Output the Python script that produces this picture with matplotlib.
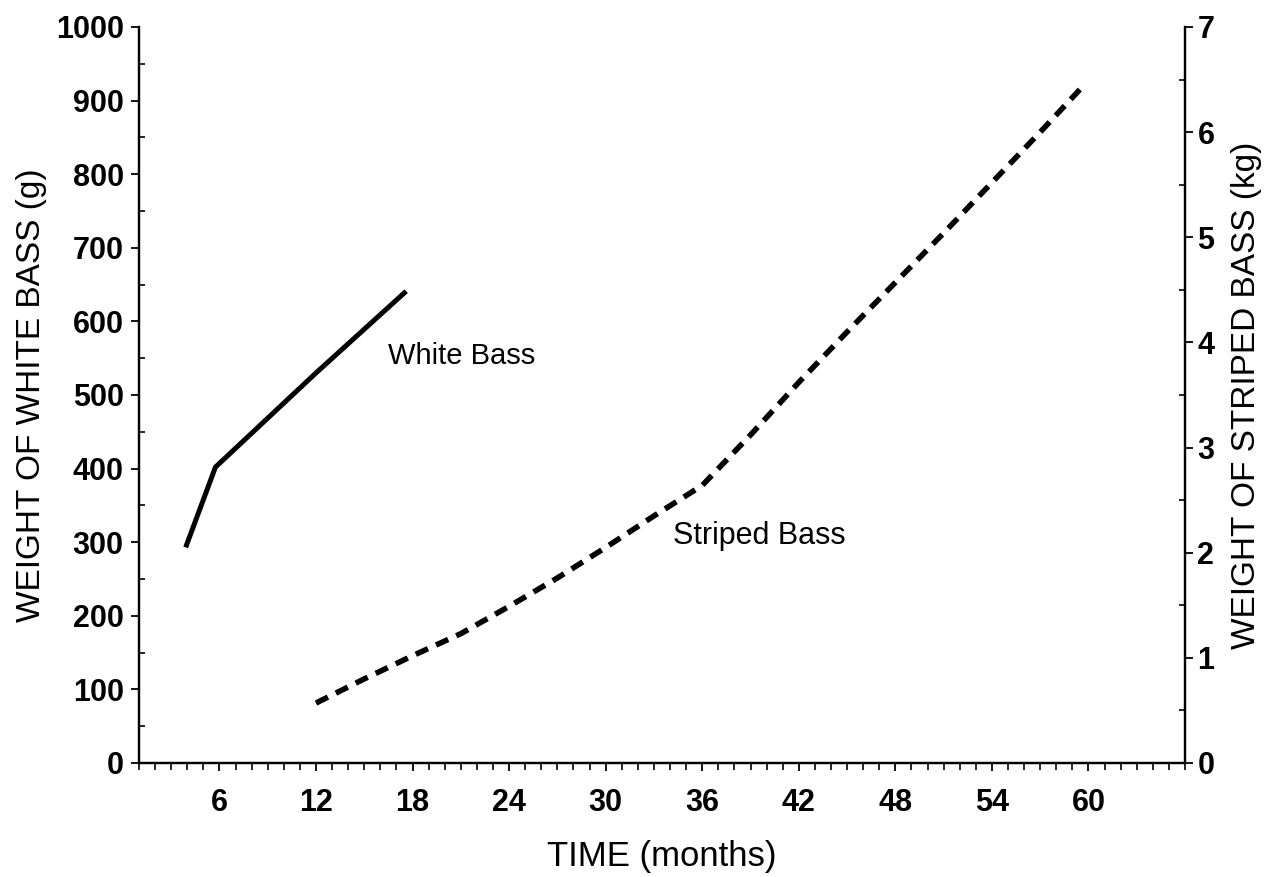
import matplotlib
matplotlib.use("Agg")
import matplotlib.pyplot as plt
from matplotlib.ticker import MultipleLocator, FixedLocator

# ---- data ----
white_months = [3.9, 5.75, 12.0, 17.6]
white_weight_g = [293, 402, 530, 641]

striped_months = [12, 15, 18, 21, 24, 27, 30, 33, 36, 39, 42, 45, 48, 51, 54, 57, 59.8]
striped_weight_kg = [0.57, 0.80, 1.02, 1.23, 1.49, 1.76, 2.05, 2.35, 2.64, 3.12, 3.62, 4.10, 4.57, 5.04, 5.52, 6.00, 6.46]

x_ticks = [6, 12, 18, 24, 30, 36, 42, 48, 54, 60]
left_ticks = [0, 100, 200, 300, 400, 500, 600, 700, 800, 900, 1000]
right_ticks = [0, 1, 2, 3, 4, 5, 6, 7]

W, H = 1268, 877
fig = plt.figure(figsize=(W / 100, H / 100), dpi=100)
ax = fig.add_axes([139 / W, 1 - 763 / H, (1185 - 139) / W, (763 - 27) / H])
ax2 = ax.twinx()

tick_font = dict(family=["Liberation Sans", "DejaVu Sans"], weight="bold", size=22)
label_family = ["Liberation Sans", "DejaVu Sans"]

ax.plot(white_months, white_weight_g, color="black", lw=3.6, solid_capstyle="butt",
        solid_joinstyle="miter")
ax2.plot(striped_months, striped_weight_kg, color="black", lw=4.0,
         linestyle=(0, (2.4, 1.6)), dash_capstyle="butt")

ax.set_xlim(1, 66)
ax.set_ylim(0, 1000)
ax2.set_ylim(0, 7)

for a in (ax, ax2):
    a.spines["top"].set_visible(False)
    for s in a.spines.values():
        s.set_linewidth(1.6)

ax.xaxis.set_major_locator(FixedLocator(x_ticks))
ax.xaxis.set_minor_locator(MultipleLocator(1))
ax.yaxis.set_major_locator(FixedLocator(left_ticks))
ax.yaxis.set_minor_locator(MultipleLocator(50))
ax2.yaxis.set_major_locator(FixedLocator(right_ticks))
ax2.yaxis.set_minor_locator(MultipleLocator(0.5))

ax.tick_params(axis="x", which="major", direction="out", length=6, width=1.3, pad=12)
ax.tick_params(axis="x", which="minor", direction="out", length=5, width=1.2)
ax.tick_params(axis="y", which="major", direction="out", length=6, width=1.3, pad=5)
ax.tick_params(axis="y", which="minor", direction="in", length=4, width=1.2)
ax2.tick_params(axis="y", which="major", direction="out", length=6, width=1.3, pad=3)
ax2.tick_params(axis="y", which="minor", direction="in", length=4, width=1.2)

ax.set_xticklabels([str(t) for t in x_ticks], fontdict=tick_font)
ax.set_yticklabels([str(t) for t in left_ticks], fontdict=tick_font)
ax2.set_yticklabels([str(t) for t in right_ticks], fontdict=tick_font)

ax.set_xlabel("TIME (months)", family=label_family, fontsize=25, labelpad=16)
ax.set_ylabel("WEIGHT OF WHITE BASS (g)", family=label_family, fontsize=24, labelpad=6)
ax2.set_ylabel("WEIGHT OF STRIPED BASS (kg)", family=label_family, fontsize=24, labelpad=12)

ax.text(16.5, 553, "White Bass", family=label_family, fontsize=21,
        va="center", ha="left")
ax2.text(34.2, 2.16, "Striped Bass", family=label_family, fontsize=22,
         va="center", ha="left")

fig.savefig("out.png", dpi=100)
